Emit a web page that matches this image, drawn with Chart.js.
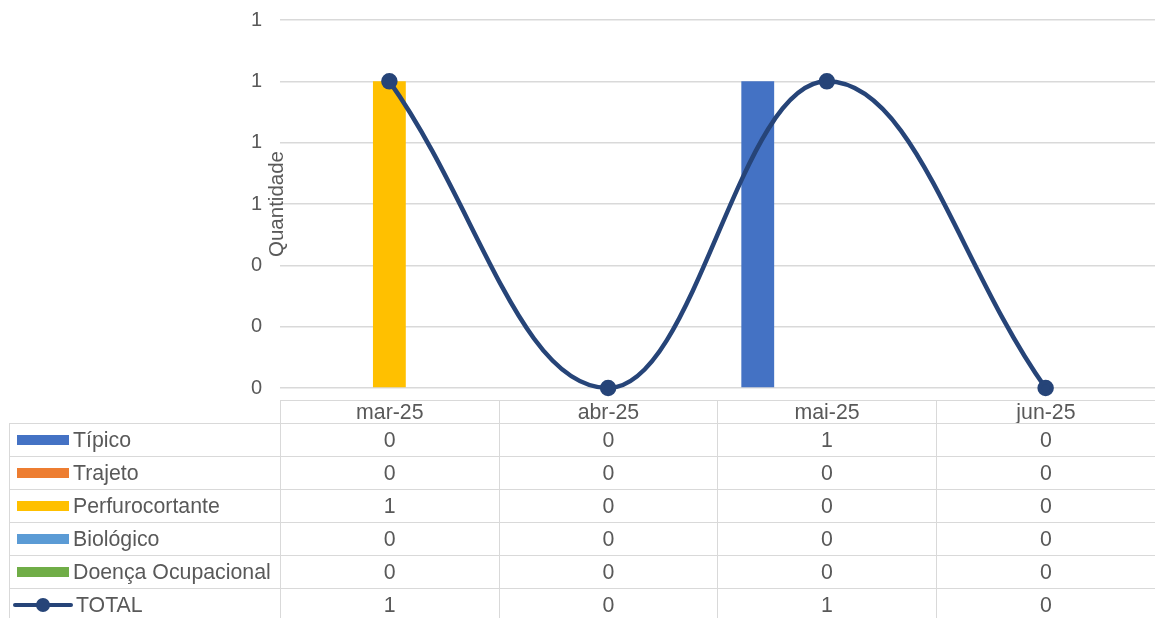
<!DOCTYPE html>
<html>
<head>
<meta charset="utf-8">
<script src="https://cdn.jsdelivr.net/npm/chart.js@4.4.1/dist/chart.umd.min.js"></script>
<style>
  html, body { margin: 0; padding: 0; background: #fff; }
  #wrap { position: relative; width: 1155px; height: 618px; overflow: hidden; font-family: "Liberation Sans", Arial, sans-serif; color: #595959; }
  #chart { position: absolute; left: 0; top: 0; }
  #ylabel { position: absolute; font-size: 20.5px; transform: translate(-50%, -50%) rotate(-90deg); white-space: nowrap; }
  #tbl { position: absolute; border-collapse: collapse; font-size: 21.3px; table-layout: fixed; }
  #tbl td { border: 1.5px solid #d9d9d9; text-align: center; padding: 0; height: 32px; white-space: nowrap; overflow: hidden; }
  #tbl tr.head td { height: 22px; line-height: 22px; }
  #tbl td.name { text-align: left; }
  #tbl td.blank { border-top: none; border-left: none; }
  #tbl tr td:last-child { border-right: none; }
  #tbl tr:last-child td { border-bottom: none; }
  .sw { display: inline-block; width: 52px; height: 10px; margin: 0 4px 0 7px; vertical-align: 2px; }
  .lsw { display: inline-block; position: relative; width: 60px; height: 14px; margin: 0 3px 0 3px; vertical-align: 0px; }
  .lsw i { position: absolute; left: 0; right: 0; top: 5px; height: 4px; border-radius: 2px; background: #264478; }
  .lsw b { position: absolute; left: 23px; top: 0; width: 14px; height: 14px; border-radius: 50%; background: #264478; }
</style>
</head>
<body>
<div id="wrap">
  <canvas id="chart" width="1155" height="618"></canvas>
  <div id="ylabel">Quantidade</div>
  <table id="tbl"></table>
</div>
<script>
// data
const months = ["mar-25", "abr-25", "mai-25", "jun-25"];
const tipico = [0, 0, 1, 0];
const trajeto = [0, 0, 0, 0];
const perfuro = [1, 0, 0, 0];
const biologico = [0, 0, 0, 0];
const doenca = [0, 0, 0, 0];
const total = [1, 0, 1, 0];

const barSeries = [
    { label: "Típico", data: tipico, color: "#4472C4" },
    { label: "Trajeto", data: trajeto, color: "#ED7D31" },
    { label: "Perfurocortante", data: perfuro, color: "#FFC000" },
    { label: "Biológico", data: biologico, color: "#5B9BD5" },
    { label: "Doença Ocupacional", data: doenca, color: "#70AD47" }
];
const lineColor = "#264478";

const datasets = barSeries.map(s => ({
    type: "bar",
    label: s.label,
    data: s.data,
    backgroundColor: s.color,
    borderWidth: 0,
    order: 2,
    barPercentage: 0.95,
    categoryPercentage: 0.79
}));
datasets.push({
    type: "line",
    label: "TOTAL",
    data: total,
    borderColor: lineColor,
    backgroundColor: lineColor,
    borderWidth: 4.5,
    pointRadius: 6,
    pointHoverRadius: 6,
    tension: 0.4,
    clip: false,
    order: 1
});

const chart = new Chart(document.getElementById("chart"), {
    type: "bar",
    data: { labels: months, datasets: datasets },
    options: {
        responsive: false,
        animation: false,
        layout: { autoPadding: false, padding: { top: 20, bottom: 230, right: 0, left: 0 } },
        plugins: { legend: { display: false }, tooltip: { enabled: false } },
        scales: {
            x: { display: false },
            y: {
                min: 0, max: 1.2,
                border: { display: false },
                grid: { color: "#d9d9d9", lineWidth: 1.5, drawTicks: false },
                ticks: {
                    stepSize: 0.2,
                    padding: 18,
                    color: "#595959",
                    font: { family: "Liberation Sans", size: 20 },
                    callback: v => Math.round(v).toString()
                },
                afterFit: s => { s.width = 280; s.paddingTop = 0; s.paddingBottom = 0; }
            }
        }
    }
});

// data table under the plot, aligned with the chart area
const area = chart.chartArea;
const colW = (area.right - area.left) / months.length;
const tbl = document.getElementById("tbl");
tbl.style.left = "9px";
tbl.style.top = (area.bottom + 12) + "px";
let html = "<colgroup><col style='width:" + (area.left - 9) + "px'>";
months.forEach(() => { html += "<col style='width:" + colW + "px'>"; });
html += "</colgroup><tr class='head'><td class='blank'></td>";
months.forEach(m => { html += "<td>" + m + "</td>"; });
html += "</tr>";
barSeries.forEach(s => {
    html += "<tr><td class='name'><span class='sw' style='background:" + s.color + "'></span>" + s.label + "</td>";
    s.data.forEach(v => { html += "<td>" + v + "</td>"; });
    html += "</tr>";
});
html += "<tr><td class='name'><span class='lsw'><i></i><b></b></span>TOTAL</td>";
total.forEach(v => { html += "<td>" + v + "</td>"; });
html += "</tr>";
tbl.innerHTML = html;

const yl = document.getElementById("ylabel");
yl.style.left = "276px";
yl.style.top = "204px";
</script>
</body>
</html>
